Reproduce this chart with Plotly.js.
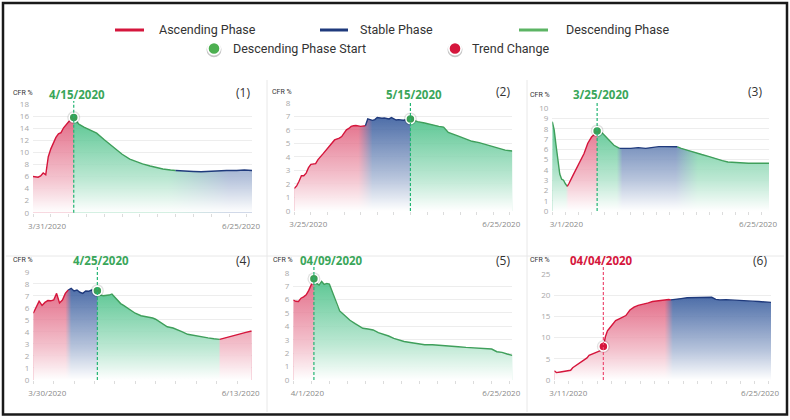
<!DOCTYPE html>
<html><head><meta charset="utf-8">
<script src="https://cdn.plot.ly/plotly-3.0.1.min.js"></script>
<style>html,body{margin:0;padding:0;background:#fff}#chart{width:790px;height:420px}</style>
</head><body><div id="chart"></div>
<script>
// ================= DATA =================
const phaseLabels = {asc: 'Ascending Phase', stable: 'Stable Phase', desc: 'Descending Phase'};
const markerLabels = {desc: 'Descending Phase Start', trend: 'Trend Change'};
const yAxisLabel = 'CFR %';

// (1)
const p1Dates = ['2020-03-31','2020-04-01','2020-04-02','2020-04-03','2020-04-04','2020-04-05','2020-04-06','2020-04-07','2020-04-08','2020-04-09','2020-04-10','2020-04-11','2020-04-12','2020-04-13','2020-04-14','2020-04-15','2020-04-16','2020-04-18','2020-04-20','2020-04-22','2020-04-25','2020-04-28','2020-04-30','2020-05-03','2020-05-05','2020-05-08','2020-05-11','2020-05-13','2020-05-16','2020-05-18','2020-05-21','2020-05-24','2020-05-26','2020-05-29','2020-06-02','2020-06-05','2020-06-07','2020-06-11','2020-06-15','2020-06-19','2020-06-22','2020-06-25'];
const p1Values = [6.0,5.9,5.9,6.1,6.6,6.3,9.3,10.6,11.6,12.5,13.1,13.3,14.1,14.7,15.1,15.5,15.8,14.7,14.2,13.8,13.2,12.1,11.4,10.4,9.7,8.9,8.35,8.1,7.75,7.5,7.25,7.08,7.0,6.9,6.85,6.8,6.85,6.9,7.0,7.0,7.1,7.0];
const p1Phases = ['asc','desc','stable'];
const p1Breaks = ['2020-03-31','2020-04-16','2020-05-26','2020-06-25'];
const p1Marker = {date: '2020-04-16', type: 'desc', label: '4/15/2020'};
const p1TickLabels = ['3/31/2020','6/25/2020'];

// (2)
const p2Dates = ['2020-03-25','2020-03-26','2020-03-27','2020-03-28','2020-03-29','2020-03-30','2020-03-31','2020-04-01','2020-04-03','2020-04-04','2020-04-06','2020-04-07','2020-04-08','2020-04-10','2020-04-11','2020-04-13','2020-04-14','2020-04-15','2020-04-16','2020-04-17','2020-04-18','2020-04-19','2020-04-20','2020-04-22','2020-04-23','2020-04-24','2020-04-25','2020-04-26','2020-04-27','2020-04-28','2020-04-29','2020-05-01','2020-05-02','2020-05-04','2020-05-05','2020-05-07','2020-05-08','2020-05-10','2020-05-11','2020-05-13','2020-05-16','2020-05-19','2020-05-22','2020-05-25','2020-05-27','2020-05-29','2020-06-02','2020-06-05','2020-06-08','2020-06-11','2020-06-13','2020-06-16','2020-06-19','2020-06-22','2020-06-25'];
const p2Values = [1.67,1.85,2.2,2.6,2.6,2.8,3.2,3.45,3.5,3.8,4.2,4.4,4.65,5.05,5.25,5.38,5.5,5.75,6.0,6.1,6.25,6.3,6.32,6.25,6.25,6.3,6.8,6.75,6.7,6.75,6.9,6.85,6.87,6.8,6.9,6.72,6.75,6.7,6.75,6.8,6.6,6.5,6.35,6.25,6.2,5.8,5.55,5.35,5.15,5.05,4.95,4.8,4.65,4.5,4.43];
const p2Phases = ['asc','stable','desc'];
const p2Breaks = ['2020-03-25','2020-04-24','2020-05-13','2020-06-25'];
const p2Marker = {date: '2020-05-13', type: 'desc', label: '5/15/2020'};
const p2TickLabels = ['3/25/2020','6/25/2020'];

// (3)
const p3Dates = ['2020-03-01','2020-03-02','2020-03-03','2020-03-04','2020-03-05','2020-03-06','2020-03-07','2020-03-08','2020-03-09','2020-03-10','2020-03-12','2020-03-14','2020-03-16','2020-03-17','2020-03-18','2020-03-20','2020-03-22','2020-03-24','2020-03-25','2020-03-27','2020-03-28','2020-03-30','2020-04-01','2020-04-03','2020-04-05','2020-04-06','2020-04-09','2020-04-12','2020-04-16','2020-04-20','2020-04-23','2020-04-27','2020-04-30','2020-05-04','2020-05-07','2020-05-09','2020-05-13','2020-05-16','2020-05-20','2020-05-24','2020-05-27','2020-05-31','2020-06-03','2020-06-07','2020-06-10','2020-06-14','2020-06-19','2020-06-25'];
const p3Values = [8.7,7.9,6.4,5.0,3.6,3.1,3.0,2.65,2.4,2.7,3.45,4.15,4.75,5.1,5.6,6.6,7.2,7.55,7.8,7.7,7.55,7.2,6.75,6.4,6.2,6.1,6.07,6.1,6.17,6.1,6.17,6.27,6.27,6.3,6.25,6.1,5.88,5.7,5.5,5.3,5.1,4.9,4.77,4.7,4.68,4.65,4.65,4.65];
const p3Phases = ['desc','asc','desc','stable','desc'];
const p3Breaks = ['2020-03-01','2020-03-09','2020-03-25','2020-04-06','2020-05-07','2020-06-25'];
const p3Marker = {date: '2020-03-25', type: 'desc', label: '3/25/2020'};
const p3TickLabels = ['3/1/2020','6/25/2020'];

// (4)
const p4Dates = ['2020-03-30','2020-03-31','2020-04-01','2020-04-02','2020-04-03','2020-04-04','2020-04-05','2020-04-06','2020-04-07','2020-04-08','2020-04-09','2020-04-10','2020-04-11','2020-04-12','2020-04-13','2020-04-14','2020-04-15','2020-04-16','2020-04-17','2020-04-18','2020-04-19','2020-04-20','2020-04-21','2020-04-22','2020-04-23','2020-04-24','2020-04-25','2020-04-26','2020-04-27','2020-04-28','2020-04-29','2020-04-30','2020-05-01','2020-05-02','2020-05-03','2020-05-04','2020-05-06','2020-05-08','2020-05-10','2020-05-11','2020-05-13','2020-05-15','2020-05-17','2020-05-18','2020-05-20','2020-05-22','2020-05-23','2020-05-25','2020-05-27','2020-05-29','2020-05-31','2020-06-02','2020-06-04','2020-06-07','2020-06-09','2020-06-11','2020-06-13'];
const p4Values = [5.55,6.05,6.55,6.2,6.45,6.6,6.58,6.65,7.2,6.4,6.65,7.2,7.48,7.62,7.4,7.48,7.29,7.2,7.4,7.37,7.48,7.42,7.42,7.06,7.0,7.0,7.06,7.15,6.9,6.6,6.35,6.2,6.04,5.9,5.72,5.55,5.34,5.26,5.15,5.05,4.73,4.42,4.32,4.24,4.02,3.8,3.75,3.71,3.6,3.5,3.43,3.38,3.52,3.7,3.82,3.96,4.07];
const p4Phases = ['asc','stable','desc','asc'];
const p4Breaks = ['2020-03-30','2020-04-11','2020-04-21','2020-06-02','2020-06-13'];
const p4Marker = {date: '2020-04-21', type: 'desc', label: '4/25/2020'};
const p4TickLabels = ['3/30/2020','6/13/2020'];

// (5)
const p5Dates = ['2020-04-01','2020-04-02','2020-04-03','2020-04-04','2020-04-05','2020-04-06','2020-04-07','2020-04-08','2020-04-09','2020-04-10','2020-04-11','2020-04-12','2020-04-13','2020-04-14','2020-04-15','2020-04-16','2020-04-17','2020-04-18','2020-04-19','2020-04-20','2020-04-22','2020-04-23','2020-04-25','2020-04-27','2020-04-28','2020-04-30','2020-05-02','2020-05-04','2020-05-06','2020-05-08','2020-05-10','2020-05-12','2020-05-14','2020-05-17','2020-05-20','2020-05-22','2020-05-25','2020-05-27','2020-05-30','2020-06-01','2020-06-04','2020-06-07','2020-06-09','2020-06-12','2020-06-14','2020-06-17','2020-06-19','2020-06-21','2020-06-23','2020-06-25'];
const p5Values = [5.96,5.87,5.85,6.1,6.2,6.35,6.68,7.1,7.55,7.2,7.08,7.35,7.13,7.2,7.15,6.65,6.0,5.5,5.15,4.97,4.62,4.45,4.2,3.95,3.86,3.8,3.73,3.53,3.43,3.28,3.1,2.97,2.87,2.78,2.68,2.63,2.63,2.61,2.58,2.56,2.48,2.43,2.41,2.36,2.34,2.31,2.11,2.06,1.94,1.84];
const p5Phases = ['asc','desc'];
const p5Breaks = ['2020-04-01','2020-04-09','2020-06-25'];
const p5Marker = {date: '2020-04-09', type: 'desc', label: '04/09/2020'};
const p5TickLabels = ['4/1/2020','6/25/2020'];

// (6)
const p6Dates = ['2020-03-11','2020-03-12','2020-03-14','2020-03-15','2020-03-17','2020-03-19','2020-03-20','2020-03-22','2020-03-24','2020-03-25','2020-03-27','2020-03-28','2020-03-30','2020-04-01','2020-04-02','2020-04-03','2020-04-04','2020-04-05','2020-04-06','2020-04-07','2020-04-09','2020-04-10','2020-04-12','2020-04-14','2020-04-15','2020-04-17','2020-04-19','2020-04-21','2020-04-24','2020-04-26','2020-04-28','2020-05-01','2020-05-03','2020-05-06','2020-05-07','2020-05-10','2020-05-12','2020-05-15','2020-05-17','2020-05-20','2020-05-25','2020-05-27','2020-05-29','2020-05-31','2020-06-03','2020-06-06','2020-06-09','2020-06-12','2020-06-16','2020-06-19','2020-06-22','2020-06-25'];
const p6Values = [2.2,1.75,1.9,1.97,2.12,2.3,2.9,3.55,4.1,4.45,5.2,5.8,6.13,6.55,6.8,7.0,7.9,10.2,11.6,12.2,13.3,14.0,14.5,14.9,15.2,16.5,17.2,17.6,17.9,18.2,18.5,18.65,18.9,19.0,18.9,19.0,19.2,19.4,19.4,19.5,19.5,19.5,19.0,18.9,18.95,18.9,18.8,18.7,18.6,18.5,18.4,18.3];
const p6Phases = ['asc','stable'];
const p6Breaks = ['2020-03-11','2020-05-07','2020-06-25'];
const p6Marker = {date: '2020-04-04', type: 'trend', label: '04/04/2020'};
const p6TickLabels = ['3/11/2020','6/25/2020'];

const panelNumbers = ['(1)','(2)','(3)','(4)','(5)','(6)'];
const yMax = [18, 8, 10, 9, 8, 25];
const yStep = [2, 1, 1, 1, 1, 5];

// ================= STYLE / LAYOUT =================
const W = 790, H = 420, DAY = 864e5;
const LINE = {asc: '#d5163c', stable: '#1f3a7c', desc: '#3f9f5b'};
const FILL = {asc: 'rgba(214,40,80,0.72)', stable: 'rgba(36,76,148,0.85)', desc: 'rgba(38,180,112,0.8)'};
const MARK = {desc: '#3b9e55', trend: '#d5163c'};
const DASH = {desc: '#22b573', trend: '#ee4d72'};
const TXT = {desc: '#3aa65a', trend: '#d5163c'};

const boxes = [
  {l: 33, r: 252, t: 104.3, b: 212.7},
  {l: 294.3, r: 512.3, t: 102.7, b: 211},
  {l: 552.3, r: 769, t: 108.3, b: 211},
  {l: 33.3, r: 251.7, t: 271.7, b: 380},
  {l: 293.3, r: 512.3, t: 272.7, b: 380},
  {l: 554.3, r: 771, t: 274, b: 380}
];
const deco = [
  {titleY: 95, titleShift: 3, numX: 243, numY: 92, cfrX: 23, cfrY: 93, blends: [[0, 0.6], [9, 24]]},
  {titleY: 95, titleShift: 4, numX: 503, numY: 91, cfrX: 282, cfrY: 92, blends: [[0, 6], [0, 0.6]]},
  {titleY: 95, titleShift: 4, numX: 755, numY: 91, cfrX: 540, cfrY: 95, blends: [[0, 1.5], [0, 0.6], [0, 3], [5, 12]]},
  {titleY: 260.7, titleShift: 4, numX: 243, numY: 260, cfrX: 23, cfrY: 260, blends: [[0, 2], [0, 0.6], [0, 0.6]]},
  {titleY: 260.7, titleShift: 18, numX: 503, numY: 260, cfrX: 283, cfrY: 260, blends: [[0, 0.6]]},
  {titleY: 260.7, titleShift: -2, numX: 760, numY: 260, cfrX: 540, cfrY: 260, blends: [[-1, 4]]}
];

const panels = [
  {dates: p1Dates, values: p1Values, phases: p1Phases, breaks: p1Breaks, marker: p1Marker, ticks: p1TickLabels},
  {dates: p2Dates, values: p2Values, phases: p2Phases, breaks: p2Breaks, marker: p2Marker, ticks: p2TickLabels},
  {dates: p3Dates, values: p3Values, phases: p3Phases, breaks: p3Breaks, marker: p3Marker, ticks: p3TickLabels},
  {dates: p4Dates, values: p4Values, phases: p4Phases, breaks: p4Breaks, marker: p4Marker, ticks: p4TickLabels},
  {dates: p5Dates, values: p5Values, phases: p5Phases, breaks: p5Breaks, marker: p5Marker, ticks: p5TickLabels},
  {dates: p6Dates, values: p6Values, phases: p6Phases, breaks: p6Breaks, marker: p6Marker, ticks: p6TickLabels}
];

const px = x => x / W;
const py = y => 1 - y / H;
const ms = s => Date.parse(s + 'T00:00:00Z');

const traces = [];
const layout = {
  width: W, height: H,
  margin: {l: 0, r: 0, t: 0, b: 0},
  paper_bgcolor: '#ffffff', plot_bgcolor: 'rgba(0,0,0,0)',
  showlegend: false,
  font: {family: 'Roboto, sans-serif', color: '#333'},
  shapes: [], annotations: []
};

function buildScale(p, d) {
  const t0 = ms(p.breaks[0]), t1 = ms(p.breaks[p.breaks.length - 1]), span = t1 - t0;
  const stops = [[0, FILL[p.phases[0]]]];
  for (let k = 1; k < p.phases.length; k++) {
    const bl = d.blends[k - 1];
    const c = (ms(p.breaks[k]) + bl[0] * DAY - t0) / span;
    const hw = bl[1] * DAY / span / 2;
    const last = stops[stops.length - 1][0];
    const a = Math.min(Math.max(c - hw, last + 1e-4), 1);
    const b = Math.min(Math.max(c + hw, a + 1e-4), 1);
    stops.push([a, FILL[p.phases[k - 1]]]);
    stops.push([b, FILL[p.phases[k]]]);
  }
  stops.push([1, FILL[p.phases[p.phases.length - 1]]]);
  return stops;
}

panels.forEach((p, i) => {
  const n = i + 1, sfx = n === 1 ? '' : String(n);
  const xa = 'x' + sfx, ya = 'y' + sfx;
  const bx = boxes[i], d = deco[i];
  const t0 = ms(p.breaks[0]), t1 = ms(p.breaks[p.breaks.length - 1]);
  const msPerPx = (t1 - t0) / (bx.r - bx.l);
  const dataMax = Math.max.apply(null, p.values);

  layout['xaxis' + sfx] = {
    type: 'date', domain: [px(bx.l), px(bx.r)], anchor: ya, range: [t0, t1],
    showgrid: false, zeroline: false, showline: false, fixedrange: true,
    tickmode: 'array', tickvals: [t0 + 14 * msPerPx, t1 - 11 * msPerPx], ticktext: p.ticks,
    ticks: '', ticklabelstandoff: 7,
    tickfont: {family: 'Open Sans, sans-serif', size: 8, color: '#8a8a8a'},
    minor: {ticks: 'outside', ticklen: 3, tickcolor: '#dcdcdc', tickwidth: 1, dtick: 7 * DAY, tick0: t0, showgrid: false}
  };
  layout['yaxis' + sfx] = {
    domain: [py(bx.b), py(bx.t)], anchor: xa, range: [0, yMax[i]], dtick: yStep[i],
    showgrid: true, gridcolor: '#ededed', gridwidth: 1, zeroline: false, showline: false, fixedrange: true,
    ticks: '', ticklabelstandoff: 3,
    tickfont: {family: 'Open Sans, sans-serif', size: 8, color: '#a8a8a8'}
  };

  // coloured area (horizontal phase gradient)
  traces.push({
    type: 'scatter', mode: 'lines', x: p.dates, y: p.values, xaxis: xa, yaxis: ya,
    line: {width: 0, color: 'rgba(0,0,0,0)'}, fill: 'tozeroy', hoverinfo: 'skip',
    fillgradient: {type: 'horizontal', start: t0, stop: t1, colorscale: buildScale(p, d)}
  });
  // white vertical fade
  traces.push({
    type: 'scatter', mode: 'lines', x: p.dates, y: p.values, xaxis: xa, yaxis: ya,
    line: {width: 0, color: 'rgba(0,0,0,0)'}, fill: 'tozeroy', hoverinfo: 'skip',
    fillgradient: {type: 'vertical', start: 0, stop: dataMax,
      colorscale: [[0, 'rgba(255,255,255,1)'], [0.35, 'rgba(255,255,255,0.62)'], [1, 'rgba(255,255,255,0.05)']]}
  });
  // phase lines
  for (let k = 0; k < p.phases.length; k++) {
    const a = ms(p.breaks[k]), b = ms(p.breaks[k + 1]);
    const xs = [], ys = [];
    p.dates.forEach((dt, j) => { const t = ms(dt); if (t >= a && t <= b) { xs.push(dt); ys.push(p.values[j]); } });
    traces.push({type: 'scatter', mode: 'lines', x: xs, y: ys, xaxis: xa, yaxis: ya,
      line: {color: LINE[p.phases[k]], width: 1.4}, hoverinfo: 'skip', cliponaxis: false});
  }
  // marker
  const mi = p.dates.indexOf(p.marker.date);
  const mType = p.marker.type;
  traces.push({type: 'scatter', mode: 'markers', x: [p.marker.date], y: [p.values[mi]], xaxis: xa, yaxis: ya,
    marker: {size: 13, color: 'rgba(0,0,0,0.12)'}, hoverinfo: 'skip', cliponaxis: false});
  traces.push({type: 'scatter', mode: 'markers', x: [p.marker.date], y: [p.values[mi]], xaxis: xa, yaxis: ya,
    marker: {size: 9, color: MARK[mType], line: {color: '#ffffff', width: 1.5}}, hoverinfo: 'skip', cliponaxis: false});

  // dashed vertical line
  layout.shapes.push({type: 'line', xref: xa, yref: 'paper', x0: p.marker.date, x1: p.marker.date,
    y0: py(bx.b), y1: py(d.titleY + 6), line: {color: DASH[mType], width: 1.2, dash: '3px,2px'}, layer: 'above'});

  // title date
  layout.annotations.push({xref: xa, yref: 'paper', x: p.marker.date, y: py(d.titleY), xshift: d.titleShift,
    text: '<b>' + p.marker.label + '</b>', showarrow: false, xanchor: 'center', yanchor: 'middle',
    font: {family: 'Open Sans, sans-serif', size: 11.5, color: TXT[mType]}});
  // panel number
  layout.annotations.push({xref: 'paper', yref: 'paper', x: px(d.numX), y: py(d.numY), text: panelNumbers[i],
    showarrow: false, xanchor: 'center', yanchor: 'middle', font: {family: 'Open Sans, sans-serif', size: 12, color: '#333'}});
  // CFR %
  layout.annotations.push({xref: 'paper', yref: 'paper', x: px(d.cfrX), y: py(d.cfrY), text: yAxisLabel,
    showarrow: false, xanchor: 'center', yanchor: 'middle', font: {family: 'Roboto, sans-serif', size: 7, color: '#333'}});
});

// card separators
const sepColor = '#e8e8e8';
layout.shapes.push({type: 'line', xref: 'paper', yref: 'paper', x0: px(267), x1: px(267), y0: py(80), y1: py(412), line: {color: sepColor, width: 1}});
layout.shapes.push({type: 'line', xref: 'paper', yref: 'paper', x0: px(527), x1: px(527), y0: py(80), y1: py(412), line: {color: sepColor, width: 1}});
layout.shapes.push({type: 'line', xref: 'paper', yref: 'paper', x0: px(6), x1: px(784), y0: py(256), y1: py(256), line: {color: sepColor, width: 1}});
// outer frame
layout.shapes.push({type: 'rect', xref: 'paper', yref: 'paper', x0: px(3), x1: px(787), y0: py(414.5), y1: py(3),
  line: {color: '#1a1a1a', width: 2.5}});

// legend (custom)
const legendRow1 = [
  {key: 'asc', x0: 115, x1: 144, tx: 157},
  {key: 'stable', x0: 320, x1: 348, tx: 358},
  {key: 'desc', x0: 519, x1: 548, tx: 564}
];
const legendRow2 = [
  {key: 'desc', cx: 214, tx: 231},
  {key: 'trend', cx: 455, tx: 470}
];
const LEGLINE = {asc: '#d5163c', stable: '#1f3a7c', desc: '#5cb464'};
legendRow1.forEach(it => {
  layout.shapes.push({type: 'line', xref: 'paper', yref: 'paper', x0: px(it.x0), x1: px(it.x1), y0: py(30), y1: py(30),
    line: {color: LEGLINE[it.key], width: 3}});
  layout.annotations.push({xref: 'paper', yref: 'paper', x: px(it.tx), y: py(30), text: phaseLabels[it.key], showarrow: false,
    xanchor: 'left', yanchor: 'middle', font: {family: 'Roboto, sans-serif', size: 12.5, color: '#333'}});
});
const LEGDOT = {desc: '#4caf50', trend: '#d5163c'};
legendRow2.forEach(it => {
  const cy = 48.5;
  const circ = (r, dy, color) => ({type: 'circle', xref: 'paper', yref: 'paper',
    x0: px(it.cx - r), x1: px(it.cx + r), y0: py(cy + dy + r), y1: py(cy + dy - r), line: {width: 0}, fillcolor: color});
  layout.shapes.push(circ(7.5, 1.2, 'rgba(0,0,0,0.22)'));
  layout.shapes.push(circ(7, 0, '#ffffff'));
  layout.shapes.push(circ(5.3, 0, LEGDOT[it.key]));
  layout.annotations.push({xref: 'paper', yref: 'paper', x: px(it.tx), y: py(cy), text: markerLabels[it.key], showarrow: false,
    xanchor: 'left', yanchor: 'middle', font: {family: 'Roboto, sans-serif', size: 12.5, color: '#333'}});
});

Plotly.newPlot('chart', traces, layout, {displayModeBar: false, staticPlot: true});
</script>
</body></html>
